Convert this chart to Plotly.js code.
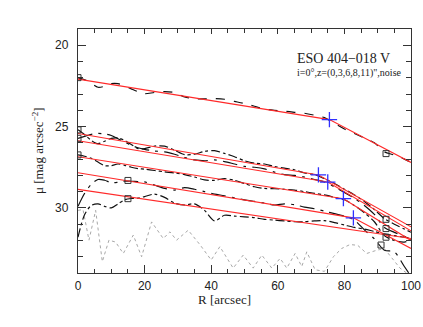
<!DOCTYPE html>
<html>
<head>
<meta charset="utf-8">
<script src="https://cdn.plot.ly/plotly-3.0.1.min.js"></script>
<style>
  html, body { margin: 0; padding: 0; background: #fff; }
  #chart { width: 423px; height: 327px; }
</style>
</head>
<body>
<div id="chart"></div>
<script>
// radii of the profile samples (arcsec)
var rData = [0, 2, 4, 6, 8, 10, 12, 14, 16, 18, 20, 23, 26, 29, 32, 35, 38, 41, 44, 47,
             50, 53, 56, 59, 62, 65, 68, 71, 74, 77, 80, 83, 86, 89, 92, 95, 98, 100];

// surface brightness profiles, z = 0, 3, 6, 8, 11 and the noise one
var muZ0 = [22.0, 22.12, 22.35, 22.58, 22.52, 22.36, 22.36, 22.5, 22.68, 22.85, 22.98, 22.9, 22.85, 22.9, 23.18, 23.28, 23.3, 23.28, 23.32, 23.45,
            23.58, 23.75, 23.92, 24.0, 24.05, 24.12, 24.18, 24.3, 24.45, 24.8, 25.15, 25.42, 25.7, 26.0, 26.55, 26.75, 27.0, 27.2];
var muZ3 = [25.2, 25.5, 25.85, 26.05, 25.9, 25.72, 25.7, 25.85, 26.1, 26.35, 26.35, 26.2, 26.2, 26.45, 26.72, 26.7, 26.52, 26.48, 26.65, 26.85,
            27.1, 27.25, 27.3, 27.45, 27.55, 27.65, 27.85, 27.95, 28.2, 28.5, 28.85, 29.2, 29.6, 30.1, 30.65, 31.0, 31.3, 31.5];
var muZ6 = [25.72, 25.6, 25.48, 25.42, 25.45, 25.55, 25.75, 25.95, 26.15, 26.3, 26.4, 26.5, 26.55, 26.7, 26.9, 27.05, 27.1, 27.05, 27.15, 27.3,
            27.45, 27.5, 27.6, 27.8, 27.95, 28.0, 28.1, 28.25, 28.4, 28.7, 29.05, 29.4, 29.85, 30.4, 31.2, 31.5, 31.75, 31.9];
var muZ8 = [26.74, 26.82, 26.95, 27.18, 27.4, 27.4, 27.3, 27.38, 27.5, 27.58, 27.62, 27.7, 27.78, 27.85, 27.95, 28.1, 28.28, 28.3, 28.2, 28.3,
            28.5, 28.7, 28.8, 28.82, 28.85, 28.9, 29.0, 29.1, 29.2, 29.35, 29.5, 29.85, 30.3, 30.85, 31.7, 32.0, 32.1, 31.95];
var muZ11 = [29.9, 29.1, 28.55, 28.25, 28.3, 28.45, 28.42, 28.35, 28.36, 28.38, 28.4, 28.6, 28.8, 28.9, 28.75, 28.85, 29.0, 29.15, 29.25, 29.38,
             29.5, 29.6, 29.7, 29.82, 29.75, 29.8, 29.95, 30.05, 30.2, 30.35, 30.5, 30.75, 31.35, 31.9, 32.6, 32.7, 33.6, 34.2];
var muNoisy = [31.8, 30.4, 29.85, 29.75, 29.9, 30.0, 29.75, 29.5, 29.42, 29.4, 29.3, 29.15, 29.35, 29.7, 29.82, 29.75, 30.15, 30.8, 30.45, 30.5,
               30.55, 30.6, 30.7, 30.75, 30.8, 30.85, 30.85, 30.8, 30.78, 30.9, 31.05, 31.2, 31.3, 31.45, 31.6, 31.7, 31.8, 31.85];

// noise level (dotted)
var rNoise = [0, 1.5, 3.3, 5.3, 7.3, 9.3, 11.3, 13.6, 16.6, 19.1, 22.1, 25.6, 27.6, 29.6, 33.1, 36.7, 40, 42.6, 46.6, 49.6,
              52.6, 55.2, 58.2, 60.7, 62.7, 65.2, 67.2, 68.7, 71.2, 74, 76.7, 79.2, 81.7, 84, 86.7, 89.7, 92, 94, 96.7, 100];
var muNoise = [30.15, 30.1, 31.98, 30.15, 33.3, 31.98, 32.1, 32.8, 31.67, 33.0, 30.86, 31.88, 31.47, 31.98, 31.37, 32.28, 33.2, 32.38, 33.7, 32.9,
               33.7, 32.9, 33.7, 33.1, 33.7, 32.8, 33.6, 32.7, 33.8, 33.9, 33.0, 32.49, 32.25, 32.3, 32.8, 32.6, 32.5, 33.0, 33.7, 34.2];

// broken-exponential fits: inner start, break, outer end
var fitR = [[0, 75.5, 100], [0, 72.2, 100], [0, 75, 100], [0, 79.7, 100], [0, 82.7, 100], [0, 100]];
var fitMu = [[22.08, 24.57, 27.2], [25.42, 27.97, 31.16], [25.87, 28.41, 31.41],
             [26.85, 29.43, 32.0], [27.84, 30.61, 32.49], [28.86, 31.88]];

// break radii (blue crosses)
var breakR = [75.5, 72.2, 75.0, 79.7, 82.7];
var breakMu = [24.57, 27.97, 28.41, 29.43, 30.61];

// fit range limits (squares)
var limR = [0, 92.5, 0, 92.5, 0, 92.5, 0, 92.5, 15, 91, 15];
var limMu = [21.99, 26.66, 25.2, 30.7, 25.72, 31.27, 26.74, 31.8, 28.31, 32.28, 29.43];

var profiles = [muZ0, muZ3, muZ6, muZ8, muZ11, muNoisy];
var dashes = ['dash', 'dashdot', 'longdashdot', 'dashdot', 'longdashdot', 'dashdot'];

var traces = [];
traces.push({x: rNoise, y: muNoise, mode: 'lines',
  line: {color: '#a8a8a8', width: 1, dash: 'dot'}});
profiles.forEach(function(p, i) {
  traces.push({x: rData, y: p, mode: 'lines',
    line: {color: '#111', width: 1.2, dash: dashes[i], shape: 'spline', smoothing: 0.8}});
});
fitR.forEach(function(r, i) {
  traces.push({x: r, y: fitMu[i], mode: 'lines', line: {color: '#ff2a2a', width: 1.1}});
});
traces.push({x: limR, y: limMu, mode: 'markers',
  marker: {symbol: 'square-open', size: 6, color: '#333', line: {width: 1}}});
traces.push({x: breakR, y: breakMu, mode: 'markers',
  marker: {symbol: 'cross-thin', size: 11, color: '#3030ff', line: {width: 1.3, color: '#3030ff'}}});
// empty trace so the mirrored tick axes get drawn
traces.push({x: [], y: [], xaxis: 'x2', yaxis: 'y2', mode: 'lines', hoverinfo: 'skip'});

var axisFont = {family: 'Liberation Sans, Arial, sans-serif', size: 12, color: '#222'};
var tickCol = '#333';

var layout = {
  width: 423, height: 327,
  margin: {l: 78, r: 12, t: 29, b: 54},
  showlegend: false,
  paper_bgcolor: '#fff', plot_bgcolor: '#fff',
  xaxis: {
    range: [0, 100], tick0: 0, dtick: 20, ticks: 'inside', ticklen: 8, tickwidth: 1,
    tickcolor: tickCol, showline: true, linecolor: tickCol, linewidth: 1.2, mirror: true,
    showgrid: false, zeroline: false, tickfont: axisFont, ticklabelstandoff: 1,
    minor: {dtick: 5, ticks: 'inside', ticklen: 4, tickcolor: tickCol, showgrid: false}
  },
  yaxis: {
    range: [34, 19], tick0: 20, dtick: 5, ticks: 'inside', ticklen: 8, tickwidth: 1,
    tickcolor: tickCol, showline: true, linecolor: tickCol, linewidth: 1.2, mirror: true,
    showgrid: false, zeroline: false, tickfont: axisFont, ticklabelstandoff: 6,
    minor: {dtick: 1, ticks: 'inside', ticklen: 5, tickcolor: tickCol, showgrid: false}
  },
  xaxis2: {
    overlaying: 'x', side: 'top', range: [0, 100], tick0: 0, dtick: 20, ticks: 'inside',
    ticklen: 5, tickcolor: tickCol, showticklabels: false, showgrid: false, zeroline: false,
    minor: {dtick: 5, ticks: 'inside', ticklen: 4, tickcolor: tickCol, showgrid: false}
  },
  yaxis2: {
    overlaying: 'y', side: 'right', range: [34, 19], tick0: 20, dtick: 5, ticks: 'inside',
    ticklen: 8, tickcolor: tickCol, showticklabels: false, showgrid: false, zeroline: false,
    minor: {dtick: 1, ticks: 'inside', ticklen: 5, tickcolor: tickCol, showgrid: false}
  },
  annotations: [
    {xref: 'paper', yref: 'paper', x: 0.653, y: 0.881, xanchor: 'left', yanchor: 'middle',
     text: 'ESO 404\u2212018 V', showarrow: false,
     font: {family: 'Liberation Serif, serif', size: 14, color: '#222'}},
    {xref: 'paper', yref: 'paper', x: 0.653, y: 0.821, xanchor: 'left', yanchor: 'middle',
     text: 'i=0\u00b0,z=(0,3,6,8,11)",noise', showarrow: false,
     font: {family: 'Liberation Serif, serif', size: 10, color: '#222'}},
    {xref: 'paper', yref: 'paper', x: 0.44, y: -0.108, xanchor: 'center', yanchor: 'middle',
     text: 'R [arcsec]', showarrow: false,
     font: {family: 'Liberation Serif, serif', size: 13, color: '#222'}},
    {xref: 'paper', yref: 'paper', x: -0.12, y: 0.5, xanchor: 'center', yanchor: 'middle',
     textangle: -90, text: '\u03bc [mag arcsec<sup>\u22122</sup>]', showarrow: false,
     font: {family: 'Liberation Serif, serif', size: 13, color: '#222'}}
  ]
};

Plotly.newPlot('chart', traces, layout, {displayModeBar: false, staticPlot: true});
</script>
</body>
</html>
